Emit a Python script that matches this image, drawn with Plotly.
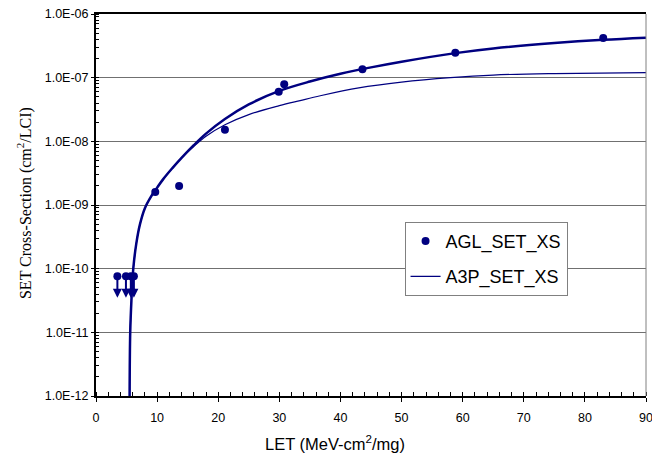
import math
import plotly.graph_objects as go

# ---- data ----
agl_let = [3.5, 4.9, 5.7, 6.2, 9.7, 13.6, 21.1, 29.9, 30.8, 43.6, 58.8, 83.0]
agl_xs = [7.6e-11, 7.6e-11, 7.6e-11, 7.6e-11, 1.6e-9, 1.99e-9, 1.52e-8,
          6.0e-8, 7.9e-8, 1.36e-7, 2.47e-7, 4.2e-7]

# upper-limit points (drawn with downward arrows)
limit_let = [3.5, 4.9, 5.7, 6.2]
limit_xs = [7.6e-11, 7.6e-11, 7.6e-11, 7.6e-11]
limit_tip = [3.5e-11, 3.5e-11, 3.5e-11, 3.5e-11]

# fitted curve for AGL (thick line)
fit_agl_let = [5.5, 5.6, 5.8, 6.1, 6.6, 7.2, 8.0, 9.0, 9.7, 11.0, 12.5, 14.0,
               16.0, 18.0, 21.1, 25.0, 30.0, 35.0, 40.0, 45.0, 50.0, 58.8,
               65.0, 75.0, 83.0, 90.0]
fit_agl_xs = [1.0e-12, 1.0e-11, 3.2e-11, 1.0e-10, 2.5e-10, 5.0e-10, 8.9e-10,
              1.35e-9, 1.7e-9, 2.55e-9, 3.8e-9, 5.5e-9, 8.7e-9, 1.32e-8,
              2.24e-8, 3.8e-8, 6.2e-8, 8.7e-8, 1.15e-7, 1.45e-7, 1.78e-7,
              2.43e-7, 2.88e-7, 3.5e-7, 3.94e-7, 4.25e-7]

# A3P curve (thin line)
a3p_let = [5.5, 5.6, 5.8, 6.1, 6.6, 7.2, 8.0, 9.0, 9.7, 11.0, 12.5, 14.0,
           16.0, 18.0, 21.1, 25.0, 30.0, 33.4, 36.7, 43.0, 50.0, 58.0,
           65.0, 75.0, 90.0]
a3p_xs = [1.0e-12, 1.0e-11, 3.2e-11, 1.0e-10, 2.5e-10, 5.0e-10, 8.9e-10,
          1.35e-9, 1.7e-9, 2.55e-9, 3.8e-9, 5.5e-9, 8.3e-9, 1.2e-8,
          1.82e-8, 2.63e-8, 3.63e-8, 4.37e-8, 5.2e-8, 6.9e-8, 8.5e-8,
          1.0e-7, 1.1e-7, 1.16e-7, 1.2e-7]

y_tickvals = [1e-12, 1e-11, 1e-10, 1e-9, 1e-8, 1e-7, 1e-6]
y_ticktext = [f"{v:.1E}" for v in y_tickvals]
x_tickvals = [0, 10, 20, 30, 40, 50, 60, 70, 80, 90]

NAVY = "#000080"
SANS = "Liberation Sans, Arial, sans-serif"
SERIF = "Liberation Serif, Times New Roman, serif"

fig = go.Figure()

fig.add_trace(go.Scatter(
    x=a3p_let, y=a3p_xs, mode="lines", name="A3P_SET_XS",
    line=dict(color=NAVY, width=1.2, shape="spline", smoothing=1.0),
    legendgroup="b", legendrank=2))

fig.add_trace(go.Scatter(
    x=fit_agl_let, y=fit_agl_xs, mode="lines", name="AGL fit",
    line=dict(color=NAVY, width=2.5, shape="spline", smoothing=1.0),
    showlegend=False))

fig.add_trace(go.Scatter(
    x=agl_let, y=agl_xs, mode="markers", name="AGL_SET_XS",
    marker=dict(color=NAVY, size=8, symbol="circle"),
    legendgroup="a", legendrank=1))

annotations = []
for lx, ly, lt in zip(limit_let, limit_xs, limit_tip):
    annotations.append(dict(
        x=lx, y=math.log10(lt), ax=lx, ay=math.log10(ly),
        xref="x", yref="y", axref="x", ayref="y",
        showarrow=True, arrowhead=2, arrowsize=0.9, arrowwidth=2,
        arrowcolor=NAVY, text=""))

annotations.append(dict(
    text="SET Cross-Section (cm<sup>2</sup>/LCI)", textangle=-90,
    xref="paper", yref="paper", x=-0.131, y=0.505,
    xanchor="center", yanchor="middle", showarrow=False,
    font=dict(family=SERIF, size=16, color="black")))
annotations.append(dict(
    text="LET (MeV-cm<sup>2</sup>/mg)",
    xref="paper", yref="paper", x=0.4345, y=-0.123,
    xanchor="center", yanchor="middle", showarrow=False,
    font=dict(family=SANS, size=16.5, color="black")))

fig.update_layout(
    width=652, height=453,
    margin=dict(l=96, r=6, t=14, b=57),
    paper_bgcolor="white", plot_bgcolor="white",
    font=dict(family=SANS, size=12.5, color="black"),
    annotations=annotations,
    showlegend=True,
    legend=dict(
        x=0.561, y=0.456, xanchor="left", yanchor="top",
        bgcolor="white", bordercolor="#808080", borderwidth=1,
        font=dict(family=SANS, size=18, color="black"),
        tracegroupgap=9, traceorder="grouped"),
    shapes=[dict(type="line", xref="paper", yref="paper",
                 x0=1, x1=1, y0=0, y1=1,
                 line=dict(color="#808080", width=1))],
)

fig.update_xaxes(
    range=[0, 90], tickvals=x_tickvals, ticks="outside", ticklen=4,
    tickcolor="black", showgrid=False, zeroline=False, automargin=False,
    showline=True, linecolor="black", linewidth=2, mirror=True,
    ticklabeloverflow="allow", ticklabelstandoff=5,
    minor=dict(ticks="inside", dtick=2, ticklen=4, tickcolor="black", showgrid=False),
    tickfont=dict(family=SANS, size=12.5))

fig.update_yaxes(
    type="log", range=[-12, -6], tickvals=y_tickvals, ticktext=y_ticktext,
    ticks="outside", ticklen=3, tickcolor="black", automargin=False,
    showgrid=True, gridcolor="#707070", gridwidth=1, zeroline=False,
    showline=True, linecolor="black", linewidth=2, mirror=False,
    minor=dict(ticks="inside", dtick="D1", ticklen=3, tickcolor="black", showgrid=False),
    tickfont=dict(family=SANS, size=12.5))

fig.write_html("out.html")
